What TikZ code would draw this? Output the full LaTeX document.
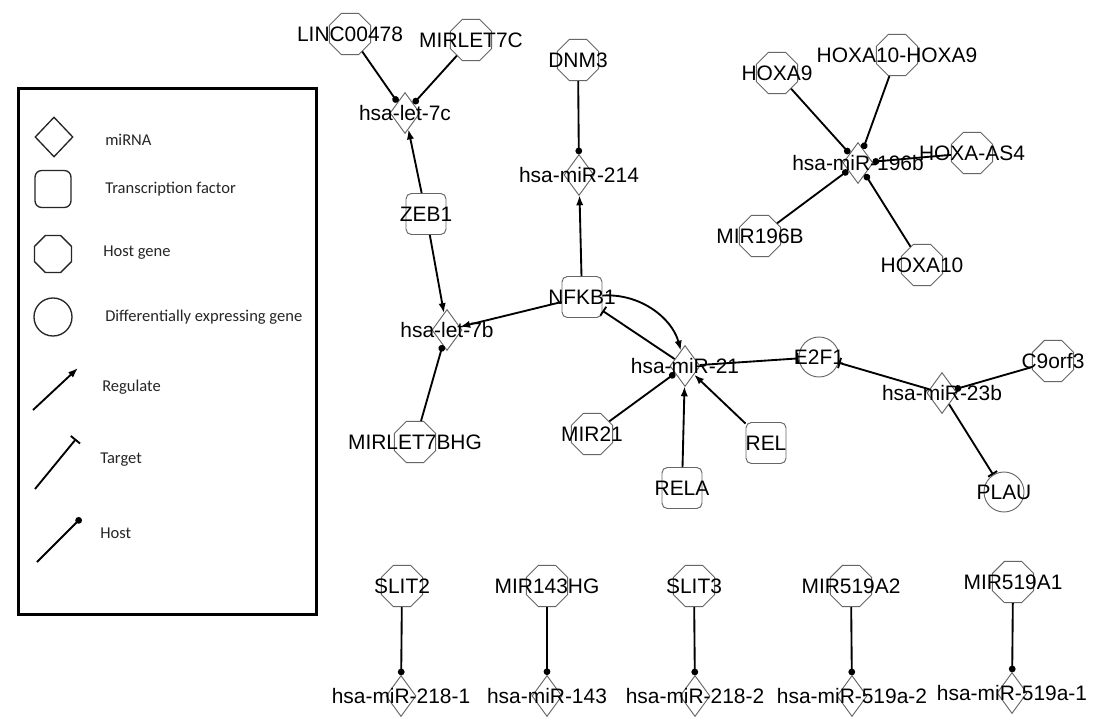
\documentclass[tikz,border=0pt]{standalone}
\usepackage{fontspec}
\setmainfont{Liberation Sans}
\newfontfamily\legfont{Carlito}
\usetikzlibrary{shapes.geometric,arrows.meta}
\newcommand\zt[1]{\makebox[0pt][c]{#1}}
\begin{document}
\begin{tikzpicture}[x=0.75pt,y=-0.75pt,
  lbl/.style={font=\fontsize{15.7}{18}\selectfont, text=black},
  shp/.style={draw=black!60, line width=0.7pt, inner sep=0pt, lbl},
  mirna/.style={shp, diamond, minimum width=22.5pt, minimum height=30.75pt},
  tf/.style={shp, rectangle, rounded corners=4pt, minimum width=30pt, minimum height=30.75pt},
  hostg/.style={shp, regular polygon, regular polygon sides=8, minimum size=33.5pt},
  deg/.style={shp, circle, minimum size=30pt},
  conn/.style={line width=1.4pt, black},
  reg/.style={conn, -{Latex[length=7.5pt,width=5.5pt]}},
  tgt/.style={conn, -{Bar[width=8pt]}},
  hst/.style={conn, -{Circle[length=5pt]}},
  legshp/.style={draw=black!85, line width=1pt, inner sep=0pt},
  legtxt/.style={anchor=west, inner sep=0pt, text=black!85, font=\legfont\fontsize{12.4}{14}\selectfont},
]
\useasboundingbox (0,0) rectangle (1098,727);
\fill[white] (0,0) rectangle (1098,727);

% ---------------- legend ----------------
\node[draw=black, line width=2.3pt, minimum width=223.5pt, minimum height=394.5pt, anchor=north west, inner sep=0pt] (legbox) at (17,87) {};
\node[legshp, diamond, minimum width=28.5pt, minimum height=30pt] (lmir) at (54,137) {};
\node[legtxt] (lmirt) at (105,140) {miRNA};
\node[legshp, rectangle, rounded corners=5pt, minimum width=27pt, minimum height=27.75pt] (ltf) at (53,189) {};
\node[legtxt] (ltft) at (105,189) {Transcription factor};
\node[legshp, regular polygon, regular polygon sides=8, minimum size=30pt] (lhg) at (53,254) {};
\node[legtxt] (lhgt) at (103,253) {Host gene};
\node[legshp, circle, minimum size=28.5pt] (ldeg) at (53,317) {};
\node[legtxt] (ldegt) at (105,317) {Differentially expressing gene};
\coordinate (lr1) at (33,410); \coordinate (lr2) at (78,368);
\draw[reg] (lr1) -- (lr2);
\node[legtxt] (lregt) at (102,387) {Regulate};
\coordinate (lt1) at (35,489); \coordinate (lt2) at (76,439);
\draw[conn, -{Bar[width=9pt]}] (lt1) -- (lt2);
\node[legtxt] (ltgtt) at (100,460) {Target};
\coordinate (lh1) at (37,562); \coordinate (lh2) at (81,518);
\draw[hst] (lh1) -- (lh2);
\node[legtxt] (lhstt) at (100,533) {Host};

% ---------------- nodes ----------------
\node[hostg] (linc) at (350,34) {\zt{LINC00478}};
\node[hostg] (mirlet7c) at (471,40) {\zt{MIRLET7C}};
\node[mirna] (let7c) at (405,113) {\zt{hsa-let-7c}};
\node[tf] (zeb1) at (426,214) {\zt{ZEB1}};
\node[mirna] (let7b) at (447,330) {\zt{hsa-let-7b}};
\node[hostg] (mirlet7bhg) at (415,442) {\zt{MIRLET7BHG}};
\node[hostg] (dnm3) at (578,60) {\zt{DNM3}};
\node[mirna] (mir214) at (579,175) {\zt{hsa-miR-214}};
\node[tf] (nfkb1) at (582,297) {\zt{NFKB1}};
\node[mirna] (mir21) at (685,366) {\zt{hsa-miR-21}};
\node[hostg] (mir21hg) at (592,434) {\zt{MIR21}};
\node[tf] (rela) at (682,488) {\zt{RELA}};
\node[tf] (rel) at (766,443) {\zt{REL}};
\node[deg] (e2f1) at (819,357) {\zt{E2F1}};
\node[mirna] (mir23b) at (942,393) {\zt{hsa-miR-23b}};
\node[hostg] (c9orf3) at (1053,361) {\zt{C9orf3}};
\node[deg] (plau) at (1004,492) {\zt{PLAU}};

\node[hostg] (hoxa9) at (777,73) {\zt{HOXA9}};
\node[hostg] (hoxa109) at (897,55) {\zt{HOXA10-HOXA9}};
\node[mirna] (mir196b) at (858,163) {\zt{hsa-miR-196b}};
\node[hostg] (hoxaas4) at (972,153) {\zt{HOXA-AS4}};
\node[hostg] (mir196bhg) at (760,236) {\zt{MIR196B}};
\node[hostg] (hoxa10) at (922,265) {\zt{HOXA10}};

\node[hostg] (slit2) at (402,586) {\zt{SLIT2}};
\node[mirna] (mir2181) at (401,696) {\zt{hsa-miR-218-1}};
\node[hostg] (mir143hg) at (547,586) {\zt{MIR143HG}};
\node[mirna] (mir143) at (547,696) {\zt{hsa-miR-143}};
\node[hostg] (slit3) at (694,586) {\zt{SLIT3}};
\node[mirna] (mir2182) at (695,696) {\zt{hsa-miR-218-2}};
\node[hostg] (mir519a2hg) at (851,586) {\zt{MIR519A2}};
\node[mirna] (mir519a2) at (852,696) {\zt{hsa-miR-519a-2}};
\node[hostg] (mir519a1hg) at (1013,582) {\zt{MIR519A1}};
\node[mirna] (mir519a1) at (1012,693) {\zt{hsa-miR-519a-1}};

% ---------------- connectors ----------------
\draw[hst] (linc) -- (let7c);
\draw[hst] (mirlet7c) -- (let7c);
\draw[reg] (zeb1) -- (let7c);
\draw[reg] (zeb1) -- (let7b);
\draw[hst] (mirlet7bhg) -- (let7b);
\draw[hst] (dnm3) -- (mir214);
\draw[reg] (nfkb1) -- (mir214);
\draw[reg] (nfkb1) -- (let7b);
\draw[reg] (nfkb1) .. controls (640,293) and (672,318) .. (mir21);
\draw[tgt] (mir21) -- (nfkb1);
\draw[hst] (mir21hg) -- (mir21);
\draw[reg] (rela) -- (mir21);
\draw[reg] (rel) -- (mir21);
\draw[tgt] (mir21) -- (e2f1);
\draw[tgt] (mir23b) -- (e2f1);
\draw[hst] (c9orf3) -- (mir23b);
\draw[tgt] (mir23b) -- (plau);

\draw[hst] (hoxa9) -- (mir196b);
\draw[hst] (hoxa109) -- (mir196b);
\draw[hst] (hoxaas4) -- (mir196b);
\draw[hst] (mir196bhg) -- (mir196b);
\draw[hst] (hoxa10) -- (mir196b);

\draw[hst] (slit2) -- (mir2181);
\draw[hst] (mir143hg) -- (mir143);
\draw[hst] (slit3) -- (mir2182);
\draw[hst] (mir519a2hg) -- (mir519a2);
\draw[hst] (mir519a1hg) -- (mir519a1);
\end{tikzpicture}
\end{document}
